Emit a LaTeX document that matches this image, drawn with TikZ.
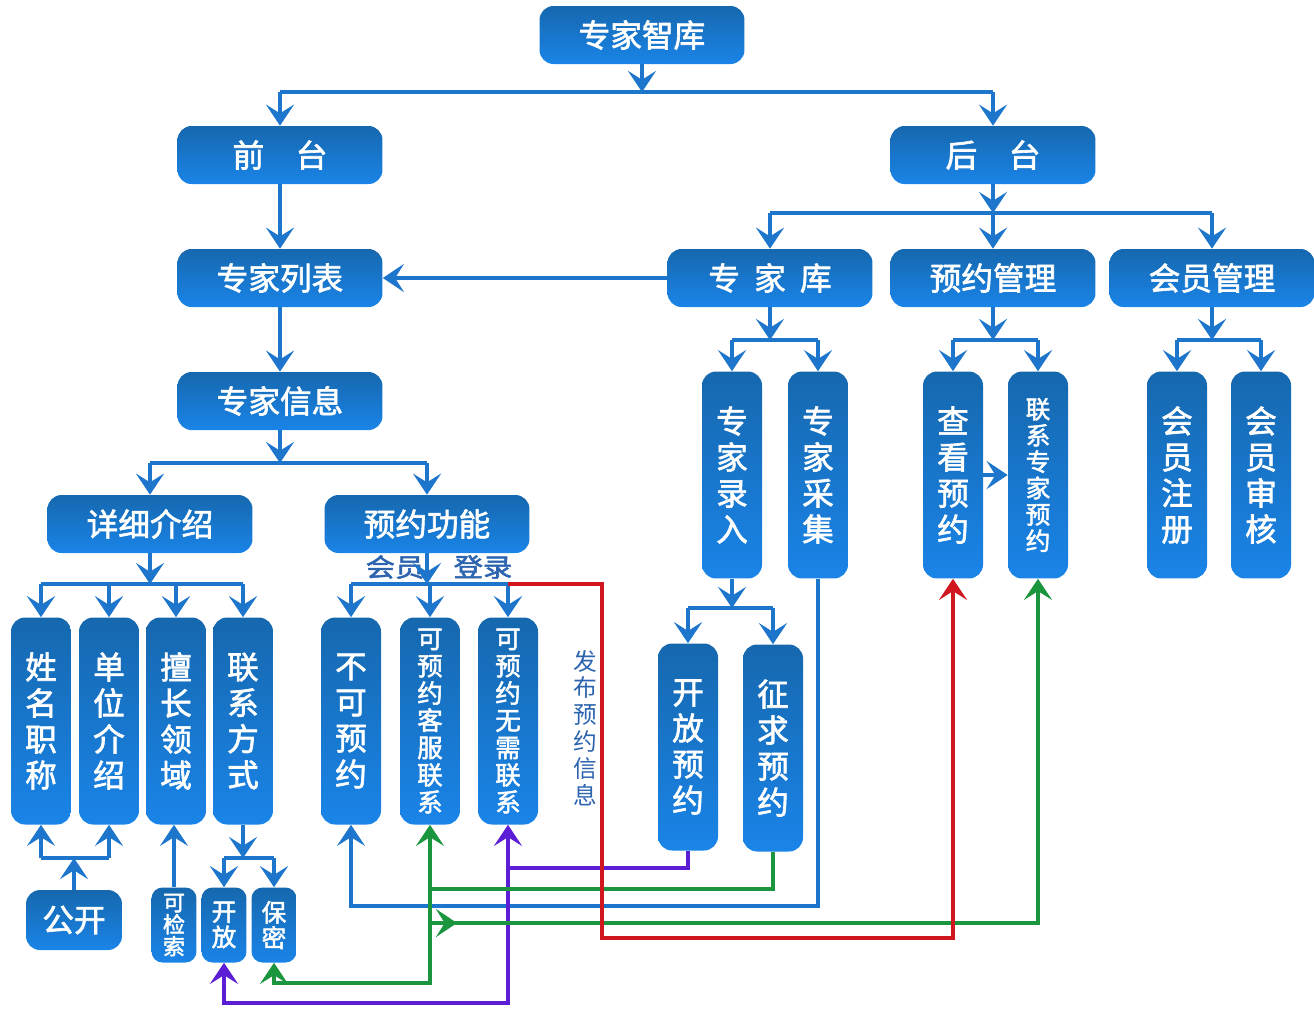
\documentclass[tikz,border=0pt]{standalone}
\usepackage{fontspec}
\setmainfont{Noto Sans CJK SC}
\newfontfamily\boxfont{Noto Sans CJK SC}[FakeBold=2]
\usetikzlibrary{arrows.meta}

\definecolor{boxtop}{RGB}{22,104,174}
\definecolor{boxbot}{RGB}{26,132,232}
\definecolor{lineblue}{RGB}{30,118,204}
\definecolor{labelblue}{RGB}{45,100,175}
\definecolor{linered}{RGB}{208,22,30}
\definecolor{linegreen}{RGB}{28,150,62}
\definecolor{linepurple}{RGB}{92,30,212}

\tikzset{
  box/.style={rounded corners=0.28cm, top color=boxtop, bottom color=boxbot,
    text=white, inner sep=0pt, align=center},
  wide/.style={box, minimum width=4.1cm, minimum height=1.16cm,
    font=\boxfont\fontsize{18}{20}\selectfont},
  tall/.style={box, minimum width=1.2cm, minimum height=4.14cm,
    font=\boxfont\fontsize{18}{20.5}\selectfont},
  narrow/.style={box, rounded corners=0.22cm, minimum width=0.9cm, minimum height=1.5cm},
  tip/.style={-{Stealth[length=12pt,width=16pt,inset=5pt]}},
  bar/.style={draw=lineblue, line width=2.2pt},
  arr/.style={bar, tip},
  rline/.style={draw=linered, line width=1.8pt, tip},
  gline/.style={draw=linegreen, line width=1.8pt, tip},
  pline/.style={draw=linepurple, line width=1.8pt, tip},
  note/.style={text=labelblue, inner sep=0pt, align=center}
}

\begin{document}
\begin{tikzpicture}[x=0.02cm,y=-0.02cm]
  \useasboundingbox (0,0) rectangle (1314,1009);

  % boxes
  \node[wide] (zhiku) at (642,35) {专家智库};
  \node[wide] (qiantai) at (280,155) {前\quad 台};
  \node[wide] (houtai) at (993,155) {后\quad 台};
  \node[wide] (liebiao) at (280,278) {专家列表};
  \node[wide] (zjku) at (770,278) {专\hspace{0.45em}家\hspace{0.45em}库};
  \node[wide] (yygl) at (993,278) {预约管理};
  \node[wide] (hygl) at (1212,278) {会员管理};
  \node[wide] (xinxi) at (280,401) {专家信息};
  \node[wide] (xiangxi) at (150,524) {详细介绍};
  \node[wide] (yygn) at (427,524) {预约功能};

  \node[tall] (xmzc) at (41,721) {姓\\名\\职\\称};
  \node[tall] (dwjs) at (109,721) {单\\位\\介\\绍};
  \node[tall] (scly) at (176,721) {擅\\长\\领\\域};
  \node[tall] (lxfs) at (243,721) {联\\系\\方\\式};
  \node[tall] (bkyy) at (351,721) {不\\可\\预\\约};
  \node[tall, font=\boxfont\fontsize{14.5}{15.5}\selectfont] (kfll) at (430,721) {可\\预\\约\\客\\服\\联\\系};
  \node[tall, font=\boxfont\fontsize{14.5}{15.5}\selectfont] (wxll) at (508,721) {可\\预\\约\\无\\需\\联\\系};

  \node[tall] (zjlr) at (732,475) {专\\家\\录\\入};
  \node[tall] (zjcj) at (818,475) {专\\家\\采\\集};
  \node[tall] (ckyy) at (953,475) {查\\看\\预\\约};
  \node[tall, font=\boxfont\fontsize{14}{15}\selectfont] (lxyy) at (1038,475) {联\\系\\专\\家\\预\\约};
  \node[tall] (hyzc) at (1177,475) {会\\员\\注\\册};
  \node[tall] (hysh) at (1261,475) {会\\员\\审\\核};
  \node[tall] (kfyy) at (688,747) {开\\放\\预\\约};
  \node[tall] (zqyy) at (773,748) {征\\求\\预\\约};

  \node[box, minimum width=1.92cm, minimum height=1.2cm,
    font=\boxfont\fontsize{18}{20}\selectfont] (gongkai) at (74,920) {公开};
  \node[narrow, font=\boxfont\fontsize{12.5}{12.5}\selectfont] (kjs) at (174,925) {可\\检\\索};
  \node[narrow, font=\boxfont\fontsize{14}{14.5}\selectfont] (kaifang) at (224,925) {开\\放};
  \node[narrow, font=\boxfont\fontsize{14}{14.5}\selectfont] (baomi) at (274,925) {保\\密};

  \node[note, xscale=1.15, font=\boxfont\fontsize{14.5}{15}\selectfont] (huiyuan) at (395,567) {会员};
  \node[note, xscale=1.15, font=\boxfont\fontsize{14.5}{15}\selectfont] (denglu) at (483,567) {登录};
  \node[note, font=\fontsize{13.5}{15.3}\selectfont] (fabu) at (585,728) {发\\布\\预\\约\\信\\息};

  % bar levels
  \coordinate (b0) at (0,92);
  \coordinate (b1) at (0,213);
  \coordinate (b2) at (0,463);
  \coordinate (b3) at (0,584);
  \coordinate (b5) at (0,340);
  \coordinate (b6) at (0,608);
  \coordinate (b7) at (0,858);

  \draw[arr] (zhiku.south) -- (zhiku.south |- b0);
  \draw[bar] (qiantai.north |- b0) -- (houtai.north |- b0);
  \draw[arr] (qiantai.north |- b0) -- (qiantai.north);
  \draw[arr] (houtai.north |- b0) -- (houtai.north);

  \draw[arr] (qiantai) -- (liebiao);
  \draw[arr] (liebiao) -- (xinxi);
  \draw[arr] (zjku) -- (liebiao);

  \draw[arr] (houtai.south) -- (houtai.south |- b1);
  \draw[bar] (zjku.north |- b1) -- (hygl.north |- b1);
  \draw[arr] (zjku.north |- b1) -- (zjku.north);
  \draw[arr] (yygl.north |- b1) -- (yygl.north);
  \draw[arr] (hygl.north |- b1) -- (hygl.north);

  \draw[arr] (xinxi.south) -- (xinxi.south |- b2);
  \draw[bar] (xiangxi.north |- b2) -- (yygn.north |- b2);
  \draw[arr] (xiangxi.north |- b2) -- (xiangxi.north);
  \draw[arr] (yygn.north |- b2) -- (yygn.north);

  \draw[arr] (xiangxi.south) -- (xiangxi.south |- b3);
  \draw[bar] (xmzc.north |- b3) -- (lxfs.north |- b3);
  \foreach \n in {xmzc,dwjs,scly,lxfs}
    \draw[arr] (\n.north |- b3) -- (\n.north);

  \draw[arr] (yygn.south) -- (yygn.south |- b3);
  \draw[bar] (bkyy.north |- b3) -- (wxll.north |- b3);
  \foreach \n in {bkyy,kfll,wxll}
    \draw[arr] (\n.north |- b3) -- (\n.north);

  \draw[arr] (zjku.south) -- (zjku.south |- b5);
  \draw[bar] (zjlr.north |- b5) -- (zjcj.north |- b5);
  \draw[arr] (zjlr.north |- b5) -- (zjlr.north);
  \draw[arr] (zjcj.north |- b5) -- (zjcj.north);

  \draw[arr] (yygl.south) -- (yygl.south |- b5);
  \draw[bar] (ckyy.north |- b5) -- (lxyy.north |- b5);
  \draw[arr] (ckyy.north |- b5) -- (ckyy.north);
  \draw[arr] (lxyy.north |- b5) -- (lxyy.north);
  \draw[arr] (ckyy) -- (lxyy);

  \draw[arr] (hygl.south) -- (hygl.south |- b5);
  \draw[bar] (hyzc.north |- b5) -- (hysh.north |- b5);
  \draw[arr] (hyzc.north |- b5) -- (hyzc.north);
  \draw[arr] (hysh.north |- b5) -- (hysh.north);

  \draw[arr] (zjlr.south) -- (zjlr.south |- b6);
  \draw[bar] (kfyy.north |- b6) -- (zqyy.north |- b6);
  \draw[arr] (kfyy.north |- b6) -- (kfyy.north);
  \draw[arr] (zqyy.north |- b6) -- (zqyy.north);

  \draw[arr] (lxfs.south) -- (lxfs.south |- b7);
  \draw[bar] (kaifang.north |- b7) -- (baomi.north |- b7);
  \draw[arr] (kaifang.north |- b7) -- (kaifang.north);
  \draw[arr] (baomi.north |- b7) -- (baomi.north);

  \draw[arr] (gongkai.north) -- (gongkai.north |- b7);
  \draw[bar] (xmzc.south |- b7) -- (dwjs.south |- b7);
  \draw[arr] (xmzc.south |- b7) -- (xmzc.south);
  \draw[arr] (dwjs.south |- b7) -- (dwjs.south);
  \draw[arr] (kjs.north) -- (kjs.north |- scly.south);

  % coloured links at the bottom
  \coordinate (yp) at (0,868);
  \coordinate (yg) at (0,889);
  \coordinate (yb) at (0,906);
  \coordinate (yg2) at (0,923);
  \coordinate (yr) at (0,938);
  \coordinate (yg3) at (0,983);
  \coordinate (yp2) at (0,1003);
  \coordinate (rx) at (602,584);

  \draw[arr] (zjcj.south) |- (bkyy.south |- yb) -- (bkyy.south);

  \draw[pline] (kfyy.south) |- (wxll.south |- yp) -- (wxll.south);
  \draw[pline] (wxll.south |- yp) -- (wxll.south |- yp2) -| (kaifang.south);

  \draw[gline] (zqyy.south) |- (kfll.south |- yg) -- (kfll.south);
  \draw[gline] (kfll.south |- yg) -- (kfll.south |- yg3) -| (baomi.south);
  \draw[gline] (kfll.south |- yg2) -- (lxyy.south |- yg2) -- (lxyy.south);
  \draw[gline] (kfll.south |- yg2) -- ++(27,0);

  \draw[rline] (wxll.north |- rx) -- (rx) |- (ckyy.south |- yr) -- (ckyy.south);
\end{tikzpicture}
\end{document}
